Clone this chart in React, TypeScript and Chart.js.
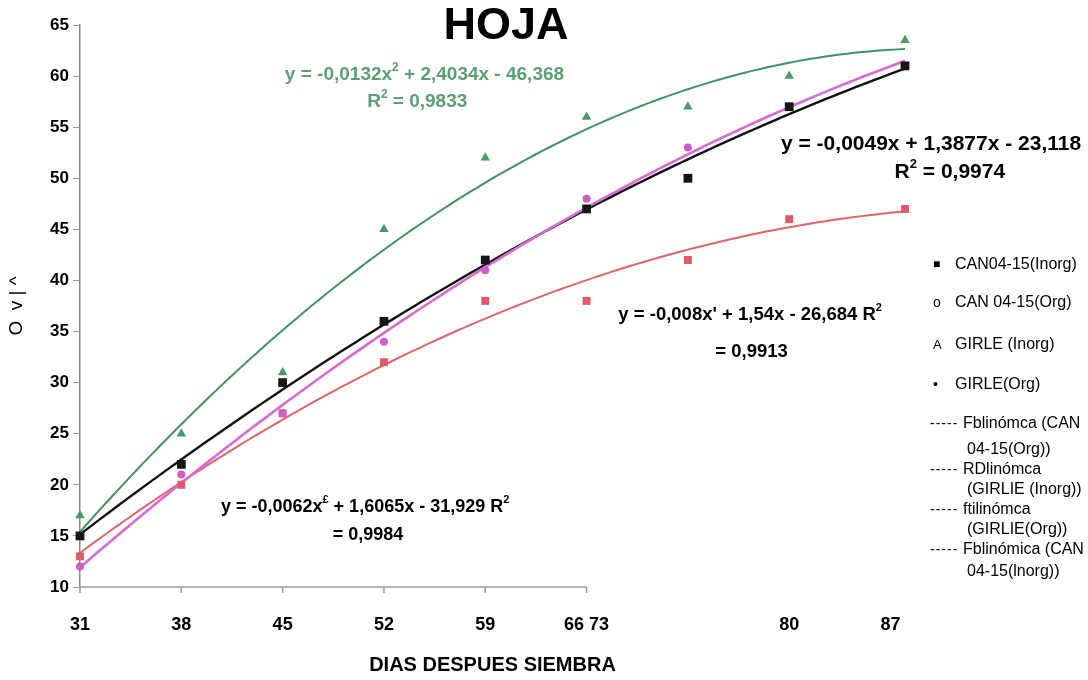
import React, { useEffect, useRef } from "react";
import { Chart, registerables } from "chart.js";

Chart.register(...registerables);

// ---- data ----
const days = [31, 38, 45, 52, 59, 66, 73, 80, 88];
const canInorg = [15, 22, 30, 36, 42, 47, 50, 57, 61];
const canOrg = [12, 21, 27, 34, 41, 48, 53, 57, 61];
const girleInorg = [17, 25, 31, 45, 52, 56, 57, 60, 63.5];
const girleOrg = [13, 20, 27, 32, 38, 38, 42, 46, 47];

const xTickValues = [31, 38, 45, 52, 59, 66, 80, 87];
const xTickLabels = ["31", "38", "45", "52", "59", "66 73", "80", "87"];
const yTicksMin = 10;
const yTicksMax = 65;

const legendSymbols = ["■", "o", "A", "•", "-----", "-----", "-----", "-----"];
const legendLines = [
  ["CAN04-15(Inorg)"],
  ["CAN 04-15(Org)"],
  ["GIRLE (Inorg)"],
  ["GIRLE(Org)"],
  ["Fblinómca (CAN", "04-15(Org))"],
  ["RDlinómca", "(GIRLIE (Inorg))"],
  ["ftilinómca", "(GIRLIE(Org))"],
  ["Fblinómica (CAN", "04-15(lnorg))"],
];

type Seg = [string, boolean?];
const eqGreen: Seg[][] = [
  [["y = -0,0132x"], ["2", true], [" + 2,4034x - 46,368"]],
  [["R"], ["2", true], [" = 0,9833"]],
];
const eqBlack: Seg[][] = [
  [["y = -0,0049x + 1,3877x - 23,118"]],
  [["R"], ["2", true], [" = 0,9974"]],
];
const eqRed: Seg[][] = [
  [["y = -0,008x'"], [" + 1,54x - 26,684 R"], ["2", true]],
  [["= 0,9913"]],
];
const eqPink: Seg[][] = [
  [["y = -0,0062x"], ["£", true], [" + 1,6065x - 31,929 R"], ["2", true]],
  [["= 0,9984"]],
];

// ---- styles / layout ----
const FONT = '"Liberation Sans", Arial, sans-serif';
const C_BLACK = "#151515";
const C_PINK = "#d25cc4";
const C_GREEN = "#4a9a64";
const C_RED = "#e0596c";
const C_GREEN_TEXT = "#5aa073";

// annotation anchors (data units, text centered)
const annotations = [
  { lines: eqGreen, at: [[54.8, 60.1], [54.3, 57.5]], color: C_GREEN_TEXT, size: 19 },
  { lines: eqBlack, at: [[89.8, 53.3], [91.1, 50.6]], color: "#000", size: 21 },
  { lines: eqRed, at: [[77.3, 36.6], [77.4, 33.0]], color: "#000", size: 18.5 },
  { lines: eqPink, at: [[50.7, 17.8], [50.9, 15.1]], color: "#000", size: 18 },
];
const legendRowY = [265, 303, 345, 385, 424, 470, 510, 550];
const legendRow2Y = [0, 0, 0, 0, 450, 490, 530, 572];

function quadFit(xs: number[], ys: number[]) {
  let n = xs.length, sx = 0, sx2 = 0, sx3 = 0, sx4 = 0, sy = 0, sxy = 0, sx2y = 0;
  for (let i = 0; i < n; i++) {
    const x = xs[i], y = ys[i];
    sx += x; sx2 += x * x; sx3 += x * x * x; sx4 += x * x * x * x;
    sy += y; sxy += x * y; sx2y += x * x * y;
  }
  const det = (m: number[][]) =>
    m[0][0] * (m[1][1] * m[2][2] - m[1][2] * m[2][1]) -
    m[0][1] * (m[1][0] * m[2][2] - m[1][2] * m[2][0]) +
    m[0][2] * (m[1][0] * m[2][1] - m[1][1] * m[2][0]);
  const M = [[sx4, sx3, sx2], [sx3, sx2, sx], [sx2, sx, n]];
  const R = [sx2y, sxy, sy];
  const D = det(M);
  const col = (k: number) => M.map((row, i) => row.map((v, j) => (j === k ? R[i] : v)));
  return [det(col(0)) / D, det(col(1)) / D, det(col(2)) / D];
}

function trend(ys: number[]) {
  const [a, b, c] = quadFit(days, ys);
  const pts: { x: number; y: number }[] = [];
  const x0 = days[0], x1 = days[days.length - 1];
  for (let x = x0; x <= x1 + 1e-9; x += 0.5) pts.push({ x, y: a * x * x + b * x + c });
  return pts;
}

const pairs = (ys: number[]) => days.map((d, i) => ({ x: d, y: ys[i] }));

function drawRich(ctx: CanvasRenderingContext2D, segs: Seg[], cx: number, cy: number, size: number, color: string) {
  const big = `bold ${size}px ${FONT}`;
  const small = `bold ${Math.round(size * 0.62)}px ${FONT}`;
  let w = 0;
  for (const [t, sup] of segs) {
    ctx.font = sup ? small : big;
    w += ctx.measureText(t).width;
  }
  let x = cx - w / 2;
  ctx.fillStyle = color;
  ctx.textAlign = "left";
  ctx.textBaseline = "middle";
  for (const [t, sup] of segs) {
    ctx.font = sup ? small : big;
    ctx.fillText(t, x, sup ? cy - size * 0.38 : cy);
    x += ctx.measureText(t).width;
  }
}

const decorPlugin = {
  id: "decor",
  beforeDatasetsDraw(chart: any) {
    const { ctx, chartArea, scales } = chart;
    const xs = scales.x;
    const lastTick = 66;
    ctx.save();
    ctx.strokeStyle = "#9a9a9a";
    ctx.lineWidth = 1.5;
    ctx.beginPath();
    ctx.moveTo(xs.getPixelForValue(xTickValues[0]), chartArea.bottom);
    ctx.lineTo(xs.getPixelForValue(lastTick), chartArea.bottom);
    for (const v of xTickValues) {
      if (v > lastTick) continue;
      const px = xs.getPixelForValue(v);
      ctx.moveTo(px, chartArea.bottom);
      ctx.lineTo(px, chartArea.bottom + 6);
    }
    ctx.stroke();
    ctx.restore();
  },
  afterDraw(chart: any) {
    const { ctx, chartArea, scales } = chart;
    ctx.save();
    // title
    ctx.font = `bold 45px ${FONT}`;
    ctx.fillStyle = "#000";
    ctx.textAlign = "center";
    ctx.textBaseline = "middle";
    ctx.fillText("HOJA", 506, 27);
    // equations
    for (const a of annotations) {
      a.lines.forEach((segs, i) => {
        const [dx, dy] = a.at[i];
        drawRich(ctx, segs, scales.x.getPixelForValue(dx), scales.y.getPixelForValue(dy), a.size, a.color);
      });
    }
    // legend
    const lx = chartArea.right + 25;
    ctx.fillStyle = "#000";
    ctx.textBaseline = "middle";
    ctx.textAlign = "left";
    legendLines.forEach((lines, i) => {
      const sym = legendSymbols[i];
      const y = legendRowY[i];
      const isDash = sym.startsWith("-");
      ctx.font = `14px ${FONT}`;
      if (sym === "■") ctx.font = `12px ${FONT}`;
      if (sym === "A") ctx.font = `13px ${FONT}`;
      if (isDash) (ctx as any).letterSpacing = "1px";
      ctx.fillText(sym, lx + (isDash ? 0 : 3), y);
      (ctx as any).letterSpacing = "0px";
      ctx.font = `16px ${FONT}`;
      if (isDash) {
        ctx.fillText(lines[0], lx + 33, y);
        ctx.fillText(lines[1], lx + 37, legendRow2Y[i]);
      } else {
        ctx.fillText(lines[0], lx + 25, y);
      }
    });
    ctx.restore();
  },
};

export default function App() {
  const ref = useRef<HTMLCanvasElement>(null);
  useEffect(() => {
    document.body.style.margin = "0";
    const canvas = ref.current!;
    const tickFont = { family: FONT, size: 18, weight: "bold" as const };
    const chart = new Chart(canvas, {
      type: "scatter",
      data: {
        datasets: [
          { label: "CAN04-15(Inorg)", data: pairs(canInorg), pointStyle: "rect", pointRadius: 6.2, backgroundColor: C_BLACK, borderColor: C_BLACK, borderWidth: 0, showLine: false },
          { label: "CAN 04-15(Org)", data: pairs(canOrg), pointStyle: "circle", pointRadius: 4, backgroundColor: C_PINK, borderColor: C_PINK, borderWidth: 0, showLine: false },
          { label: "GIRLE (Inorg)", data: pairs(girleInorg), pointStyle: "triangle", pointRadius: 5.5, backgroundColor: C_GREEN, borderColor: C_GREEN, borderWidth: 0, showLine: false },
          { label: "GIRLE(Org)", data: pairs(girleOrg), pointStyle: "rect", pointRadius: 5.6, backgroundColor: C_RED, borderColor: C_RED, borderWidth: 0, showLine: false },
          { label: "t1", data: trend(canOrg), showLine: true, pointRadius: 0, borderColor: "#d86ad0", borderWidth: 2.6, fill: false },
          { label: "t2", data: trend(girleInorg), showLine: true, pointRadius: 0, borderColor: "#3f9560", borderWidth: 2, fill: false },
          { label: "t3", data: trend(girleOrg), showLine: true, pointRadius: 0, borderColor: "#e06468", borderWidth: 2, fill: false },
          { label: "t4", data: trend(canInorg), showLine: true, pointRadius: 0, borderColor: "#111", borderWidth: 2.4, fill: false },
        ],
      },
      options: {
        responsive: false,
        animation: false,
        clip: false,
        layout: { padding: { left: 0, right: 183, top: 25, bottom: 0 } },
        plugins: { legend: { display: false }, tooltip: { enabled: false }, title: { display: false } },
        scales: {
          x: {
            type: "linear",
            min: days[0],
            max: days[days.length - 1],
            grid: { display: false },
            border: { display: false },
            afterBuildTicks: (s: any) => {
              s.ticks = xTickValues.map((v) => ({ value: v }));
            },
            afterFit: (s: any) => {
              s.height = 93;
            },
            ticks: {
              autoSkip: false,
              maxRotation: 0,
              padding: 19,
              color: "#000",
              font: tickFont,
              callback: (v: any) => {
                const i = xTickValues.indexOf(Number(v));
                return i >= 0 ? xTickLabels[i] : "";
              },
            },
            title: {
              display: true,
              text: "DIAS DESPUES SIEMBRA",
              color: "#000",
              font: { family: FONT, size: 20, weight: "bold" },
              padding: { top: 0, bottom: 3 },
            },
          },
          y: {
            min: yTicksMin,
            max: yTicksMax,
            afterFit: (s: any) => {
              s.width = 80;
            },
            ticks: { stepSize: 5, padding: 4, color: "#000", font: { family: FONT, size: 17, weight: "bold" } },
            grid: { display: true, drawOnChartArea: false, drawTicks: true, tickLength: 7, color: "#9a9a9a" },
            border: { display: true, color: "#8a8a8a", width: 1.5 },
            title: {
              display: true,
              text: "O  v | ^",
              color: "#000",
              font: { family: FONT, size: 19 },
              padding: { top: 5, bottom: 0 },
            },
          },
        },
      },
      plugins: [decorPlugin],
    } as any);
    return () => chart.destroy();
  }, []);
  return (
    <div style={{ width: 1088, height: 680, background: "#fff" }}>
      <canvas ref={ref} width={1088} height={680} style={{ display: "block" }} />
    </div>
  );
}
